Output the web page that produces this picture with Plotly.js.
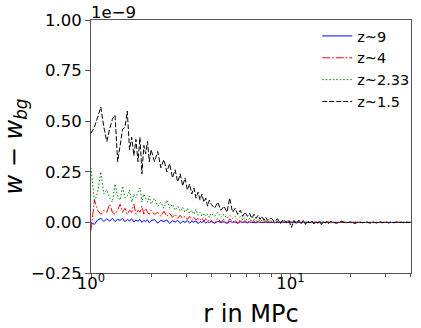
<!DOCTYPE html>
<html>
<head>
<meta charset="utf-8">
<script src="https://cdn.plot.ly/plotly-3.0.1.min.js"></script>
<style>
  html, body { margin: 0; padding: 0; background: #fff; }
  #graph1 { width: 421px; height: 328px; }
</style>
</head>
<body>
<div id="graph1"></div>
<script>
// separation r in MPc
const r = [
  1.00, 1.04, 1.08, 1.12, 1.16, 1.20, 1.24, 1.28, 1.32, 1.36, 1.40, 1.44, 1.48, 1.52, 1.56, 1.60, 1.64, 1.68, 1.72, 1.76, 1.80, 1.84, 1.88, 1.92, 1.96,
  2.00, 2.08, 2.16, 2.24, 2.32, 2.40, 2.48, 2.56, 2.64, 2.72, 2.80, 2.88, 2.96, 3.04, 3.12, 3.20, 3.28, 3.36, 3.44, 3.52, 3.60, 3.68, 3.76, 3.84, 3.92,
  4.00, 4.16, 4.32, 4.48, 4.64, 4.80, 4.96, 5.12, 5.28, 5.44, 5.60, 5.76, 5.92, 6.08, 6.24, 6.40, 6.56, 6.72, 6.88, 7.04, 7.20, 7.36, 7.52, 7.68, 7.84,
  8.0, 8.3, 8.6, 8.9, 9.2, 9.5, 9.8, 10.1, 10.4, 10.7, 11.0, 11.3, 11.6, 11.9, 12.2, 12.5, 12.8, 13.1, 13.4, 13.7, 14.0, 14.3, 14.6, 14.9, 15.2, 15.5, 15.8,
  16, 17, 18, 19, 20, 21, 22, 23, 24, 25, 26, 27, 28, 29, 30, 31, 32, 33, 34, 35, 36, 37, 38, 39, 40
];

// w - w_bg in units of 1e-9
const wz9 = [
  0.0, -0.01, 0.012, 0.02, 0.005, 0.018, 0.006, 0.02, 0.004, 0.015, 0.01, 0.02, 0.003, 0.014, 0.008, 0.018, 0.002, 0.012, 0.006, 0.015, 0.0, 0.01, 0.005, 0.012, -0.002,
  0.008, 0.014, -0.004, 0.01, 0.004, 0.012, -0.006, 0.008, 0.002, 0.01, -0.005, 0.006, 0.0, 0.009, -0.004, 0.005, 0.001, 0.007, -0.006, 0.004, 0.0, 0.006, -0.003, 0.003, 0.0,
  0.004, -0.004, 0.005, 0.0, 0.003, -0.005, 0.004, 0.001, 0.002, -0.003, 0.003, 0.0, 0.002, -0.002, 0.002, 0.0, 0.001, -0.002, 0.002, 0.0, 0.001, -0.001, 0.001, 0.0, 0.001,
  0.0, 0.001, -0.001, 0.001, 0.0, -0.001, 0.001, 0.0, 0.0, 0.001, -0.001, 0.0, 0.001, 0.0, -0.001, 0.0, 0.001, 0.0, 0.0, -0.001, 0.001, 0.0, 0.0, 0.0, 0.001, 0.0, 0.0,
  0.0, 0.0, 0.001, 0.0, -0.001, 0.0, 0.0, 0.001, 0.0, 0.0, -0.001, 0.0, 0.0, 0.0, 0.001, 0.0, 0.0, 0.0, -0.001, 0.0, 0.0, 0.0, 0.0, 0.0, 0.0
];
const wz4 = [
  -0.04, 0.11, 0.06, 0.04, 0.06, 0.05, 0.09, 0.05, 0.04, 0.06, 0.09, 0.05, 0.07, 0.04, 0.06, 0.05, 0.09, 0.04, 0.06, 0.05, 0.08, 0.04, 0.07, 0.05, 0.04,
  0.06, 0.04, 0.05, 0.03, 0.055, 0.03, 0.045, 0.025, 0.04, 0.02, 0.035, 0.02, 0.03, 0.015, 0.03, 0.01, 0.025, 0.012, 0.02, 0.008, 0.022, 0.005, 0.018, 0.006, 0.015,
  0.012, -0.005, 0.02, 0.0, 0.015, -0.008, 0.018, 0.002, 0.012, -0.006, 0.014, 0.0, 0.01, -0.004, 0.012, 0.002, 0.008, -0.003, 0.009, 0.0, 0.006, -0.002, 0.007, 0.001, 0.005,
  0.004, -0.003, 0.005, 0.0, 0.003, -0.004, 0.004, 0.001, 0.003, -0.002, 0.002, 0.0, 0.003, -0.002, 0.002, 0.0, 0.002, -0.001, 0.002, 0.0, 0.001, -0.001, 0.002, 0.0, 0.001, -0.001, 0.001,
  0.001, 0.0, 0.001, -0.001, 0.0, 0.001, 0.0, -0.001, 0.001, 0.0, 0.0, 0.001, -0.001, 0.0, 0.001, 0.0, 0.0, -0.001, 0.001, 0.0, 0.0, 0.001, 0.0, 0.0, 0.0
];
const wz233 = [
  0.27, 0.10, 0.15, 0.25, 0.14, 0.16, 0.12, 0.10, 0.19, 0.13, 0.11, 0.18, 0.12, 0.13, 0.16, 0.10, 0.14, 0.12, 0.15, 0.17, 0.10, 0.14, 0.12, 0.10, 0.13,
  0.09, 0.12, 0.08, 0.10, 0.07, 0.11, 0.07, 0.09, 0.06, 0.08, 0.055, 0.075, 0.05, 0.07, 0.045, 0.06, 0.04, 0.065, 0.035, 0.05, 0.03, 0.045, 0.03, 0.04, 0.025,
  0.045, 0.03, 0.05, 0.025, 0.04, 0.02, 0.035, 0.02, 0.03, 0.015, 0.028, 0.012, 0.025, 0.01, 0.02, 0.008, 0.018, 0.006, 0.015, 0.005, 0.012, 0.004, 0.01, 0.003, 0.008,
  0.006, 0.002, 0.008, -0.002, 0.005, 0.001, 0.006, -0.003, 0.004, 0.0, 0.005, -0.002, 0.004, -0.001, 0.003, -0.002, 0.003, 0.0, 0.002, -0.002, 0.003, -0.001, 0.002, -0.002, 0.002, 0.0, 0.001,
  0.002, -0.001, 0.001, -0.002, 0.001, 0.0, 0.002, -0.001, 0.001, -0.001, 0.001, 0.0, 0.001, -0.001, 0.001, 0.0, 0.001, -0.001, 0.0, 0.001, -0.001, 0.0, 0.001, 0.0, 0.0
];
const wz15 = [
  0.44, 0.47, 0.52, 0.57, 0.47, 0.40, 0.46, 0.51, 0.53, 0.30, 0.38, 0.46, 0.47, 0.55, 0.36, 0.42, 0.33, 0.41, 0.30, 0.42, 0.24, 0.38, 0.34, 0.40, 0.30,
  0.36, 0.30, 0.35, 0.27, 0.31, 0.25, 0.29, 0.22, 0.26, 0.20, 0.24, 0.18, 0.22, 0.16, 0.19, 0.14, 0.17, 0.12, 0.15, 0.11, 0.14, 0.10, 0.12, 0.08, 0.11,
  0.09, 0.07, 0.10, 0.06, 0.08, 0.05, 0.12, 0.05, 0.07, 0.04, 0.06, 0.03, 0.05, 0.03, 0.045, 0.02, 0.04, 0.02, 0.035, 0.015, 0.03, 0.01, 0.025, 0.01, 0.02,
  0.02, 0.005, 0.018, -0.005, 0.015, 0.0, 0.012, -0.025, 0.01, -0.008, 0.012, -0.006, 0.01, -0.01, 0.008, -0.004, 0.009, -0.008, 0.006, -0.005, 0.007, -0.012, 0.005, -0.004, 0.006, -0.006, 0.004,
  0.004, -0.005, 0.006, -0.003, 0.003, -0.006, 0.004, -0.002, 0.003, -0.004, 0.002, -0.003, 0.003, -0.002, 0.002, -0.003, 0.002, -0.002, 0.002, -0.002, 0.001, -0.002, 0.002, -0.001, 0.001
];

const yTicks = [-0.25, 0, 0.25, 0.5, 0.75, 1.0];
const yTickText = ['\u22120.25', '0.00', '0.25', '0.50', '0.75', '1.00'];
const xTicks = [1, 10];
const xTickText = ['10<sup>0</sup>', '10<sup>1</sup>'];
const xMinor = [2, 3, 4, 5, 6, 7, 8, 9, 20, 30, 40];

const font = 'DejaVu Sans, sans-serif';

const traceZ9 = {x: r, y: wz9, type: 'scatter', mode: 'lines', name: 'z~9',
  line: {color: '#0000ff', width: 1}};
const traceZ4 = {x: r, y: wz4, type: 'scatter', mode: 'lines', name: 'z~4',
  line: {color: '#ff0000', width: 1, dash: '8px,2px,1.5px,2px'}};
const traceZ233 = {x: r, y: wz233, type: 'scatter', mode: 'lines', name: 'z~2.33',
  line: {color: '#008000', width: 1, dash: '1.5px,2px'}};
const traceZ15 = {x: r, y: wz15, type: 'scatter', mode: 'lines', name: 'z~1.5',
  line: {color: '#000000', width: 1, dash: '5px,2px'}};

const data = [traceZ9, traceZ4, traceZ233, traceZ15];

const layout = {
  width: 421, height: 328,
  margin: {l: 91, r: 6, t: 20, b: 55},
  paper_bgcolor: '#fff', plot_bgcolor: '#fff',
  font: {family: font, size: 16.5, color: '#000'},
  showlegend: true,
  legend: {x: 0.707, y: 1.0, xanchor: 'left', yanchor: 'top',
    bgcolor: 'rgba(255,255,255,0)', borderwidth: 0,
    font: {family: font, size: 14.5, color: '#000'}, tracegroupgap: 0},
  xaxis: {
    type: 'log', range: [0, 1.604],
    tickmode: 'array', tickvals: xTicks, ticktext: xTickText,
    ticks: 'outside', ticklen: 5, tickcolor: '#555', tickwidth: 1,
    ticklabelstandoff: -10,
    minor: {tickvals: xMinor, ticks: 'outside', ticklen: 3, tickcolor: '#555', tickwidth: 1, showgrid: false},
    showgrid: false, zeroline: false,
    showline: true, linecolor: '#555', linewidth: 1, mirror: true,
    tickfont: {family: font, size: 16.5, color: '#000'},
    title: {text: 'r in MPc', font: {family: font, size: 24, color: '#000'}, standoff: 14}
  },
  yaxis: {
    range: [-0.25, 1.0],
    tickmode: 'array', tickvals: yTicks, ticktext: yTickText,
    ticks: 'outside', ticklen: 5, tickcolor: '#555', tickwidth: 1,
    showgrid: false, zeroline: false,
    showline: true, linecolor: '#555', linewidth: 1, mirror: true,
    tickfont: {family: font, size: 16.5, color: '#000'},
    title: {text: '<i>w</i> \u2212 <i>w</i><sub><i>bg</i></sub>', font: {family: font, size: 24, color: '#000'}, standoff: 4}
  },
  annotations: [{
    text: '1e\u22129', xref: 'paper', yref: 'paper', x: 0, y: 1,
    xanchor: 'left', yanchor: 'bottom', showarrow: false,
    font: {family: font, size: 16.5, color: '#000'}, xshift: -2, yshift: -4
  }]
};

Plotly.newPlot('graph1', data, layout, {displayModeBar: false, staticPlot: true});
</script>
</body>
</html>
